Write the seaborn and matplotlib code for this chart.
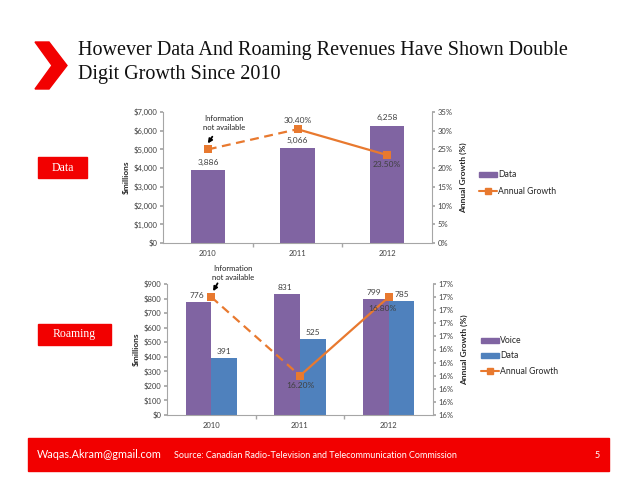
import numpy as np
import pandas as pd
import matplotlib
matplotlib.use("Agg")
import matplotlib.pyplot as plt
from matplotlib.patches import Patch, Polygon, Rectangle
from matplotlib.lines import Line2D
import seaborn as sns

# ---------------- data ----------------
years = ["2010", "2011", "2012"]
data_revenue = [3886, 5066, 6258]
data_growth = [25.0, 30.4, 23.5]
roam_voice = [776, 831, 799]
roam_data = [391, 525, 785]
roam_growth = [16.8, 16.2, 16.8]
data_growth_labels = ["", "30.40%", "23.50%"]
roam_growth_labels = ["", "16.20%", "16.80%"]
top_right_ticks = [0, 5, 10, 15, 20, 25, 30, 35]
bottom_right_ticks = [15.9, 16.0, 16.1, 16.2, 16.3, 16.4, 16.5, 16.6, 16.7, 16.8, 16.9]
bottom_right_labels = ["16%"] * 6 + ["17%"] * 5

title_lines = ["However Data And Roaming Revenues Have Shown Double", "Digit Growth Since 2010"]

PURPLE = "#8064A2"
BLUE = "#4F81BD"
ORANGE = "#E8792F"
RED = "#F20000"
GRAY = "#A6A6A6"

sns.set_theme(style="white")
plt.rcParams["font.family"] = ["Lato", "DejaVu Sans"]

W, H = 638, 493
fig = plt.figure(figsize=(W / 100, H / 100), dpi=100)


def fx(px):
    return px / W


def fy(py):
    return 1 - py / H


def style_axes(ax, ax2):
    for a in (ax, ax2):
        for s in a.spines.values():
            s.set_visible(False)
    ax.spines["left"].set_visible(True)
    ax.spines["bottom"].set_visible(True)
    ax.spines["left"].set_color(GRAY)
    ax.spines["bottom"].set_color(GRAY)
    ax.spines["left"].set_linewidth(0.8)
    ax.spines["bottom"].set_linewidth(0.8)
    ax2.spines["right"].set_visible(True)
    ax2.spines["right"].set_color(GRAY)
    ax2.spines["right"].set_linewidth(0.8)
    ax.tick_params(axis="y", length=2.5, color=GRAY, labelsize=5.5, pad=1.5, left=True, labelcolor="#404040")
    ax2.tick_params(axis="y", length=2.5, color=GRAY, labelsize=5.5, pad=1.5, right=True, labelcolor="#404040")
    ax.tick_params(axis="x", which="major", length=0, labelsize=5.5, pad=5, labelcolor="#404040")
    ax.set_xticks([0.5, 1.5], minor=True)
    ax.tick_params(axis="x", which="minor", length=3, color=GRAY, bottom=True)
    ax.set_xlabel("")
    ax.grid(False)
    ax2.grid(False)


ARROW = dict(arrowstyle="-|>", color="black", lw=1.3, mutation_scale=6, shrinkA=0, shrinkB=0)

# ---------------- top chart ----------------
ax1 = fig.add_axes([fx(163), fy(243), fx(432 - 163), (243 - 112) / H])
df1 = pd.DataFrame({"year": years, "rev": data_revenue})
sns.barplot(data=df1, x="year", y="rev", color=PURPLE, width=0.38, saturation=1, linewidth=0, ax=ax1)
ax1.set_xlim(-0.5, 2.5)
ax1.set_ylim(0, 7000)
ax1.set_yticks(range(0, 7001, 1000))
ax1.set_yticklabels([f"${v:,}" for v in range(0, 7001, 1000)])
ax1.set_ylabel("$millions", fontsize=6, fontweight="bold", labelpad=3)
for i, v in enumerate(data_revenue):
    ax1.text(i, v + 250, f"{v:,}", ha="center", va="bottom", fontsize=6, color="#404040")

ax1b = ax1.twinx()
xpos = np.arange(len(years))
seg1 = pd.DataFrame({"x": xpos[:2], "g": data_growth[:2]})
seg2 = pd.DataFrame({"x": xpos[1:], "g": data_growth[1:]})
sns.lineplot(data=seg1, x="x", y="g", color=ORANGE, marker="s", markersize=5.5, markeredgewidth=0,
             linewidth=1.6, linestyle=(0, (4, 2.5)), ax=ax1b)
sns.lineplot(data=seg2, x="x", y="g", color=ORANGE, marker="s", markersize=5.5, markeredgewidth=0,
             linewidth=1.6, ax=ax1b)
ax1b.set_ylim(0, 35)
ax1b.set_yticks(top_right_ticks)
ax1b.set_yticklabels([f"{t}%" for t in top_right_ticks])
ax1b.set_ylabel("Annual Growth (%)", fontsize=6, fontweight="bold", labelpad=5)
ax1b.set_xlim(-0.5, 2.5)
ax1b.text(1, data_growth[1] + 1.5, data_growth_labels[1], ha="center", va="bottom", fontsize=6, color="#404040")
ax1b.text(2, data_growth[2] - 1.5, data_growth_labels[2], ha="center", va="top", fontsize=6, color="#404040")
ax1b.text(0.18, 30.0, "Information\nnot available", ha="center", va="bottom", fontsize=5.5, color="#202020",
          linespacing=1.3)
ax1b.annotate("", xy=(0.0, 26.6), xytext=(0.05, 28.4), arrowprops=ARROW)
style_axes(ax1, ax1b)

fig.legend(handles=[Patch(color=PURPLE, label="Data"),
                    Line2D([], [], color=ORANGE, marker="s", markersize=4.5, lw=1.5, label="Annual Growth")],
           loc="center left", bbox_to_anchor=(fx(476), fy(183)), frameon=False, fontsize=6.2,
           handlelength=2.0, handleheight=0.45, labelspacing=0.85, handletextpad=0.2, borderaxespad=0)

# ---------------- bottom chart ----------------
ax2 = fig.add_axes([fx(167), fy(415), fx(433 - 167), (415 - 284) / H])
df2 = pd.DataFrame({"year": years * 2,
                    "val": roam_voice + roam_data,
                    "kind": ["Voice"] * 3 + ["Data"] * 3})
sns.barplot(data=df2, x="year", y="val", hue="kind", palette=[PURPLE, BLUE], width=0.58,
            saturation=1, linewidth=0, ax=ax2, legend=False)
ax2.set_xlim(-0.5, 2.5)
ax2.set_ylim(0, 900)
ax2.set_yticks(range(0, 901, 100))
ax2.set_yticklabels([f"${v:,}" for v in range(0, 901, 100)])
ax2.set_ylabel("$millions", fontsize=6, fontweight="bold", labelpad=3)
bw = 0.58 / 2
for i, v in enumerate(roam_voice):
    ax2.text(i - bw / 2 - 0.02, v + 20, f"{v}", ha="center", va="bottom", fontsize=6, color="#404040")
for i, v in enumerate(roam_data):
    ax2.text(i + bw / 2, v + 20, f"{v}", ha="center", va="bottom", fontsize=6, color="#404040")

ax2b = ax2.twinx()
seg3 = pd.DataFrame({"x": xpos[:2], "g": roam_growth[:2]})
seg4 = pd.DataFrame({"x": xpos[1:], "g": roam_growth[1:]})
sns.lineplot(data=seg3, x="x", y="g", color=ORANGE, marker="s", markersize=5.5, markeredgewidth=0,
             linewidth=1.6, linestyle=(0, (4, 2.5)), ax=ax2b)
sns.lineplot(data=seg4, x="x", y="g", color=ORANGE, marker="s", markersize=5.5, markeredgewidth=0,
             linewidth=1.6, ax=ax2b)
ax2b.set_ylim(15.9, 16.9)
ax2b.set_yticks(bottom_right_ticks)
ax2b.set_yticklabels(bottom_right_labels)
ax2b.set_ylabel("Annual Growth (%)", fontsize=6, fontweight="bold", labelpad=5)
ax2b.set_xlim(-0.5, 2.5)
ax2b.text(1, roam_growth[1] - 0.05, roam_growth_labels[1], ha="center", va="top", fontsize=6, color="#404040")
ax2b.text(1.93, roam_growth[2] - 0.06, roam_growth_labels[2], ha="center", va="top", fontsize=6, color="#404040")
ax2b.text(0.24, 16.925, "Information\nnot available", ha="center", va="bottom", fontsize=5.5, color="#202020",
          linespacing=1.3, clip_on=False)
ax2b.annotate("", xy=(0.02, 16.845), xytext=(0.07, 16.905), arrowprops=ARROW, annotation_clip=False)
style_axes(ax2, ax2b)

fig.legend(handles=[Patch(color=PURPLE, label="Voice"),
                    Patch(color=BLUE, label="Data"),
                    Line2D([], [], color=ORANGE, marker="s", markersize=4.5, lw=1.5, label="Annual Growth")],
           loc="center left", bbox_to_anchor=(fx(478), fy(356)), frameon=False, fontsize=6.2,
           handlelength=2.0, handleheight=0.45, labelspacing=0.7, handletextpad=0.2, borderaxespad=0)

# ---------------- slide decorations ----------------
chev = Polygon([(fx(35), fy(42)), (fx(49), fy(42)), (fx(67), fy(65.5)), (fx(49), fy(89)),
                (fx(35), fy(89)), (fx(52), fy(65.5))], closed=True, color=RED, transform=fig.transFigure)
fig.patches.append(chev)
fig.text(fx(78), fy(50), title_lines[0], fontsize=14.5, family=["Liberation Serif"], va="center", ha="left",
         color="#111111")
fig.text(fx(78), fy(75), title_lines[1], fontsize=14.5, family=["Liberation Serif"], va="center", ha="left",
         color="#111111")

for (x0, y0, x1, y1, lab) in [(38, 157, 87, 178, "Data"), (38, 324, 111, 345, "Roaming")]:
    fig.patches.append(Rectangle((fx(x0), fy(y1)), fx(x1 - x0), (y1 - y0) / H, color=RED,
                                 transform=fig.transFigure))
    fig.text(fx((x0 + x1) / 2), fy((y0 + y1) / 2), lab, fontsize=8.5, family=["Liberation Serif"],
             color="white", ha="center", va="center")

fig.patches.append(Rectangle((fx(28), fy(471)), fx(609 - 28), (471 - 438) / H, color=RED,
                             transform=fig.transFigure))
fig.text(fx(37), fy(455), "Waqas.Akram@gmail.com", fontsize=7.8, color="white", ha="left", va="center")
fig.text(fx(174), fy(455), "Source: Canadian Radio-Television and Telecommunication Commission", fontsize=6.5,
         color="white", ha="left", va="center")
fig.text(fx(597), fy(455), "5", fontsize=6.5, color="white", ha="center", va="center")

fig.savefig("out.png", dpi=100)
